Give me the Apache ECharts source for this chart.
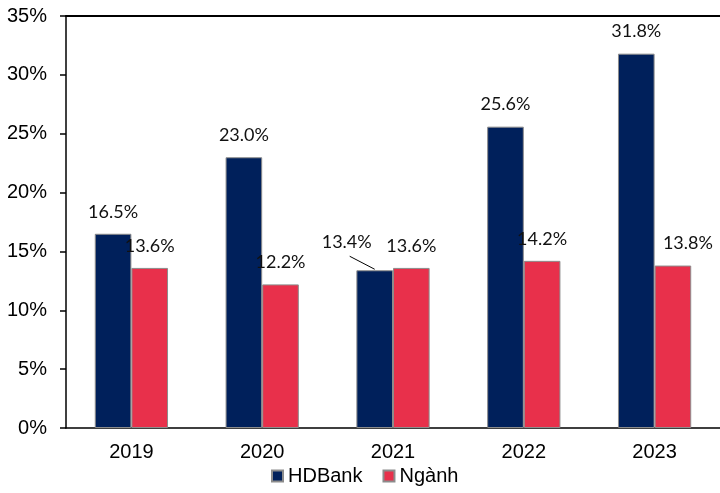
<!DOCTYPE html>
<html>
<head>
<meta charset="utf-8">
<script src="https://cdn.jsdelivr.net/npm/echarts@6/dist/echarts.min.js"></script>
<style>
  html, body { margin: 0; padding: 0; background: #fff; }
  #chart { width: 720px; height: 493px; }
</style>
</head>
<body>
<div id="chart"></div>
<script>
// dữ liệu
const years = ["2019", "2020", "2021", "2022", "2023"];
const hdbank = [16.5, 23.0, 13.4, 25.6, 31.8];
const nganh = [13.6, 12.2, 13.6, 14.2, 13.8];
const yTicks = [0, 5, 10, 15, 20, 25, 30, 35];

const axisFont = "'Liberation Sans', Arial, sans-serif";
const labelFont = "Lato, 'Open Sans', sans-serif";
const barPct = 0.28;

const chart = echarts.init(document.getElementById("chart"));

const dataLabel = {
  show: true,
  position: "top",
  distance: 13,
  color: "#111",
  fontFamily: labelFont,
  fontSize: 18,
  formatter: p => p.value.toFixed(1) + "%"
};

chart.setOption({
  animation: false,
  grid: { left: 66, right: -3, top: 16, bottom: 65 },
  legend: {
    bottom: 2,
    left: 266,
    icon: "rect",
    itemWidth: 11,
    itemHeight: 11,
    itemGap: 20,
    textStyle: { fontFamily: axisFont, fontSize: 20, color: "#000" },
    data: ["HDBank", "Ngành"]
  },
  xAxis: [
    {
      type: "category",
      data: years,
      axisLine: { lineStyle: { color: "#000", width: 1.5 } },
      axisTick: { length: 6, lineStyle: { color: "#000", width: 1.5 } },
      axisLabel: { margin: 14, color: "#000", fontFamily: axisFont, fontSize: 20 }
    },
    {
      type: "category",
      position: "top",
      data: years,
      axisLine: { lineStyle: { color: "#000", width: 2 } },
      axisTick: { show: false },
      axisLabel: { show: false }
    }
  ],
  yAxis: {
    type: "value",
    min: yTicks[0],
    max: yTicks[yTicks.length - 1],
    interval: 5,
    splitLine: { show: false },
    axisLine: { show: true, lineStyle: { color: "#000", width: 1.5 } },
    axisTick: { show: true, length: 6, lineStyle: { color: "#000", width: 1.5 } },
    axisLabel: {
      margin: 19, color: "#000", fontFamily: axisFont, fontSize: 20,
      formatter: v => v + "%"
    }
  },
  series: [
    {
      name: "HDBank",
      type: "bar",
      barWidth: barPct * 100 + "%",
      barGap: "0%",
      itemStyle: { color: "#00205B", borderColor: "#8c8c8c", borderWidth: 1 },
      label: dataLabel,
      data: hdbank.map((v, i) => (i === 2 ? { value: v, label: { offset: [-28, -6] } } : v))
    },
    {
      name: "Ngành",
      type: "bar",
      barWidth: barPct * 100 + "%",
      barGap: "0%",
      itemStyle: { color: "#E8304B", borderColor: "#8c8c8c", borderWidth: 1 },
      label: dataLabel,
      data: nganh.map((v, i) => (i === 4 ? { value: v, label: { offset: [15, 0] } } : v))
    }
  ]
});

// đường dẫn từ nhãn 13.4% xuống đỉnh cột HDBank 2021
const p0 = chart.convertToPixel({ xAxisIndex: 0, yAxisIndex: 0 }, [0, 0]);
const p1 = chart.convertToPixel({ xAxisIndex: 0, yAxisIndex: 0 }, [1, 0]);
const band = p1[0] - p0[0];
const barTop = chart.convertToPixel({ xAxisIndex: 0, yAxisIndex: 0 }, [2, hdbank[2]]);
const bx = barTop[0] - band * barPct / 2;
chart.setOption({
  graphic: [{
    type: "line",
    shape: { x1: bx - 25, y1: barTop[1] - 14, x2: bx, y2: barTop[1] - 1 },
    style: { stroke: "#000", lineWidth: 1 }
  }]
});
</script>
</body>
</html>
